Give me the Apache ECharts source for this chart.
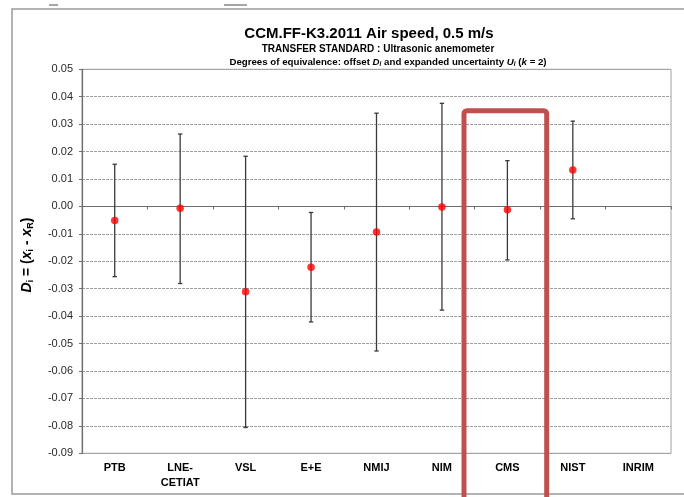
<!DOCTYPE html>
<html>
<head>
<meta charset="utf-8">
<script src="https://cdn.jsdelivr.net/npm/echarts@6/dist/echarts.min.js"></script>
<style>html,body{margin:0;padding:0;background:#fff;}#c{width:684px;height:497px;}</style>
</head>
<body>
<div id="c"></div>
<script>
var categories = ['PTB', 'LNE-\nCETIAT', 'VSL', 'E+E', 'NMIJ', 'NIM', 'CMS', 'NIST', 'INRIM'];
var offsetD = [-0.0051, -0.0007, -0.0311, -0.0222, -0.0093, -0.0002, -0.0012, 0.0133, null];
var upperU = [0.0154, 0.0264, 0.0183, -0.0022, 0.0340, 0.0376, 0.0167, 0.0311, null];
var lowerU = [-0.0256, -0.0281, -0.0806, -0.0421, -0.0527, -0.0378, -0.0195, -0.0045, null];

var FONT = 'Liberation Sans, Arial, sans-serif';
var chart = echarts.init(document.getElementById('c'));

var barData = [];
var dotData = [];
for (var i = 0; i < categories.length; i++) {
  if (offsetD[i] !== null) {
    barData.push([i, lowerU[i], upperU[i]]);
    dotData.push([i, offsetD[i]]);
  }
}

chart.setOption({
  animation: false,
  backgroundColor: '#fff',
  title: [
    { text: 'CCM.FF-K3.2011 Air speed, 0.5 m/s', left: 364, top: 21, textAlign: 'center',
      textStyle: { fontFamily: FONT, fontSize: 15, fontWeight: 'bold', color: '#000' } },
    { text: 'TRANSFER STANDARD : Ultrasonic anemometer', left: 373, top: 39, textAlign: 'center',
      textStyle: { fontFamily: FONT, fontSize: 10, fontWeight: 'bold', color: '#000' } },
    { text: 'Degrees of equivalence: offset {it|D}{sub|i} and expanded uncertainty {it|U}{sub|i} ({it|k} = 2)',
      left: 383, top: 51, textAlign: 'center',
      textStyle: { fontFamily: FONT, fontSize: 9.7, fontWeight: 'bold', color: '#000', lineHeight: 12,
        rich: {
          it: { fontFamily: FONT, fontSize: 9.7, fontWeight: 'bold', fontStyle: 'italic', color: '#000', lineHeight: 12 },
          sub: { fontFamily: FONT, fontSize: 6.5, fontWeight: 'bold', fontStyle: 'italic', color: '#000', verticalAlign: 'bottom', lineHeight: 10 }
        } } }
  ],
  grid: { left: 82, right: 13, top: 69.3, bottom: 43.7, show: true, borderColor: '#a0a0a0', borderWidth: 1, backgroundColor: 'transparent' },
  xAxis: [
    { type: 'category', data: categories, position: 'bottom', boundaryGap: true,
      axisLine: { show: false, onZero: false },
      axisTick: { show: false },
      axisLabel: { fontFamily: FONT, fontSize: 11, fontWeight: 'bold', color: '#000', margin: 7.5, lineHeight: 15, interval: 0 },
      splitLine: { show: false } },
    { type: 'category', data: categories, position: 'top', boundaryGap: true,
      axisLine: { show: true, onZero: true, lineStyle: { color: '#6e6e6e', width: 1.2 } },
      axisTick: { show: true, inside: true, length: 3, lineStyle: { color: '#6e6e6e' } },
      axisLabel: { show: false },
      splitLine: { show: false } }
  ],
  yAxis: {
    type: 'value', min: -0.09, max: 0.05, interval: 0.01,
    axisLine: { show: true, lineStyle: { color: '#6e6e6e', width: 1.2 } },
    axisTick: { show: true, length: 3, lineStyle: { color: '#6e6e6e' } },
    axisLabel: { fontFamily: FONT, fontSize: 11, color: '#2a2a2a', margin: 9,
      formatter: function (v) { var s = v.toFixed(2); if (s === '-0.00') s = '0.00'; return s; } },
    splitLine: { show: true, lineStyle: { color: '#a0a0a0', width: 1, type: [3, 1] } }
  },
  series: [
    { type: 'custom', name: 'U', xAxisIndex: 0, data: barData, z: 3,
      renderItem: function (params, api) {
        var x = api.value(0);
        var lo = api.coord([x, api.value(1)]);
        var hi = api.coord([x, api.value(2)]);
        var w = 2.2;
        var st = { stroke: '#3a3a3a', lineWidth: 1.3 };
        return { type: 'group', children: [
          { type: 'line', shape: { x1: lo[0], y1: lo[1], x2: hi[0], y2: hi[1] }, style: st },
          { type: 'line', shape: { x1: lo[0] - w, y1: lo[1], x2: lo[0] + w, y2: lo[1] }, style: st },
          { type: 'line', shape: { x1: hi[0] - w, y1: hi[1], x2: hi[0] + w, y2: hi[1] }, style: st }
        ] };
      } },
    { type: 'scatter', name: 'D', xAxisIndex: 0, data: dotData, symbol: 'circle', symbolSize: 7.5, z: 4,
      itemStyle: { color: '#ff0000' } }
  ],
  graphic: [
    { type: 'rect', silent: true, z: 0, shape: { x: 12, y: 9, width: 700, height: 485 },
      style: { fill: 'none', stroke: '#9a9a9a', lineWidth: 1.5 } },
    { type: 'line', silent: true, shape: { x1: 49, y1: 5, x2: 58, y2: 5 }, style: { stroke: '#888', lineWidth: 1.5 } },
    { type: 'line', silent: true, shape: { x1: 224, y1: 5, x2: 247, y2: 5 }, style: { stroke: '#888', lineWidth: 1.5 } },
    { type: 'text', silent: true, x: 27, y: 255, rotation: Math.PI / 2,
      style: { text: '{it|D}{sub|i} = ({it|x}{sub|i} - {it|x}{sub|R})', align: 'center', verticalAlign: 'middle',
        fontFamily: FONT, fontSize: 14, fontWeight: 'bold', fill: '#000', lineHeight: 16,
        rich: {
          it: { fontFamily: FONT, fontSize: 14, fontWeight: 'bold', fontStyle: 'italic', fill: '#000', lineHeight: 16 },
          sub: { fontFamily: FONT, fontSize: 9, fontWeight: 'bold', fill: '#000', verticalAlign: 'bottom', lineHeight: 12 }
        } } },
    { type: 'rect', silent: true, z: 100, shape: { x: 464, y: 110.7, width: 82.7, height: 420, r: 3 },
      style: { fill: 'none', stroke: '#c0504d', lineWidth: 5 } }
  ]
});
</script>
</body>
</html>
